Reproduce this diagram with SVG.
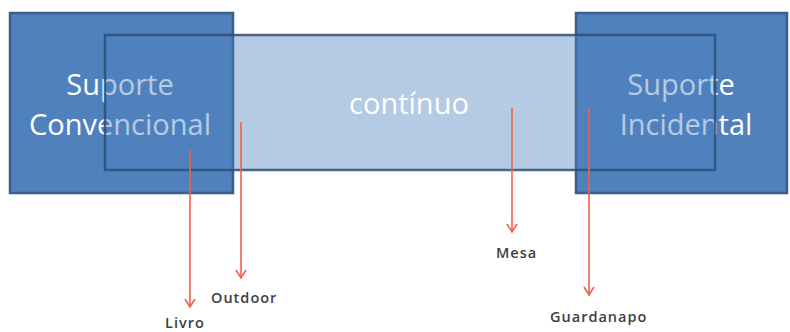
<svg xmlns="http://www.w3.org/2000/svg" width="790" height="332" viewBox="0 0 790 332">
<style>
.box{fill:#4f81bd;stroke:#3a5f8d;stroke-width:2.5}
.mid{fill:#4f81bd;fill-opacity:0.42;stroke:#2f4e77;stroke-opacity:0.85;stroke-width:2.5}
.big{font-family:"Open Sans","Liberation Sans",sans-serif;font-size:29px;fill:#ffffff;text-anchor:middle}
.lbl{font-family:"Open Sans","Liberation Sans",sans-serif;font-size:14.5px;font-weight:600;fill:#3e3e3e;letter-spacing:1px}
.arr{stroke:#f2604c;stroke-width:1.6;fill:none;marker-end:url(#ah)}
</style>
<defs>
<marker id="ah" viewBox="0 0 10 12" refX="9" refY="6" markerWidth="10" markerHeight="12" markerUnits="userSpaceOnUse" orient="auto">
<polyline points="1,1 9,6 1,11" fill="none" stroke="#f2604c" stroke-width="1.6"/>
</marker>
</defs>
<rect width="790" height="332" fill="#ffffff"/>
<g id="suporte-convencional">
<rect class="box" x="10" y="13" width="223" height="180"/>
<text class="big" x="120" y="95">Suporte</text>
<text class="big" x="120" y="135">Convencional</text>
</g>
<g id="suporte-incidental">
<rect class="box" x="576" y="13" width="211" height="180"/>
<text class="big" x="681" y="95">Suporte</text>
<text class="big" x="686" y="135">Incidental</text>
</g>
<g id="continuo">
<rect class="mid" x="105" y="35" width="610" height="135"/>
<text class="big" x="409" y="114">contínuo</text>
</g>
<g id="connectors">
<line class="arr" x1="190" y1="150" x2="190" y2="307"/>
<line class="arr" x1="241" y1="122" x2="241" y2="278"/>
<line class="arr" x1="512" y1="108" x2="512" y2="232"/>
<line class="arr" x1="589" y1="108" x2="589" y2="295"/>
</g>
<g id="livro"><text class="lbl" x="165" y="328">Livro</text></g>
<g id="outdoor"><text class="lbl" x="211" y="303">Outdoor</text></g>
<g id="mesa"><text class="lbl" x="496" y="258">Mesa</text></g>
<g id="guardanapo"><text class="lbl" x="550" y="322">Guardanapo</text></g>
</svg>
